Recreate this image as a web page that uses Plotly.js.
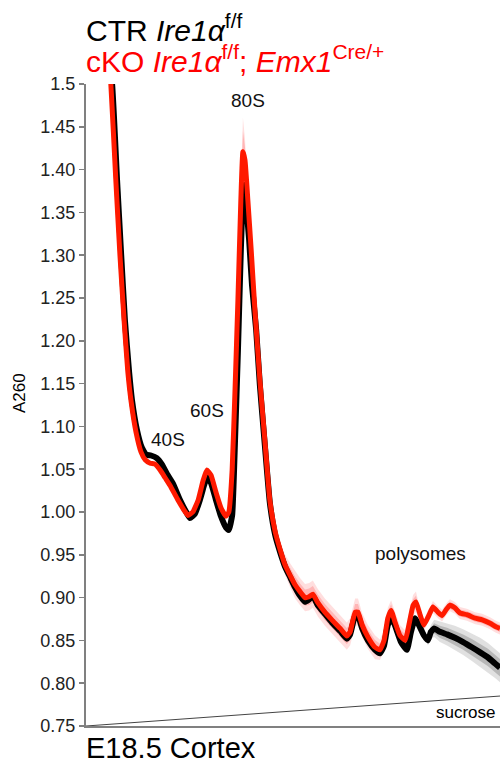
<!DOCTYPE html>
<html>
<head>
<meta charset="utf-8">
<script src="https://cdn.plot.ly/plotly-3.0.1.min.js"></script>
<style>html,body{margin:0;padding:0;background:#fff;}#chart{width:500px;height:765px;}</style>
</head>
<body>
<div id="chart"></div>
<script>
// Gradient position (% of gradient, top -> bottom) and A260 readings
const ctrX = [5.6,6.3,7.5,8.5,9.4,10.4,11.1,12.3,13.5,14.5,
  15.7,17.1,18.4,19.6,21.0,22.7,24.2,25.1,26.3,27.5,
  28.5,29.2,30.2,31.4,32.6,33.8,34.5,35.3,36.0,36.7,
  37.4,37.9,38.2,38.6,39.4,40.1,41.1,42.0,43.2,44.4,
  45.7,46.9,48.1,49.3,50.5,51.7,52.9,53.9,54.8,56.0,
  57.7,59.4,61.4,63.0,63.8,65.0,65.7,66.7,68.1,69.8,
  71.0,72.0,72.9,73.9,74.9,76.1,77.5,78.5,79.5,80.4,
  81.6,82.6,83.3,84.1,85.5,87.2,89.1,91.1,93.2,95.2,
  97.1,98.8,100];
const ctrY = [1.52,1.500,1.388,1.300,1.224,1.164,1.131,1.096,1.075,1.067,
  1.066,1.063,1.055,1.044,1.033,1.014,1.000,0.993,0.998,1.014,
  1.031,1.041,1.034,1.014,0.995,0.982,0.979,0.996,1.084,1.189,
  1.306,1.370,1.382,1.364,1.318,1.265,1.213,1.148,1.078,1.011,
  0.973,0.953,0.936,0.924,0.912,0.902,0.895,0.898,0.902,0.891,
  0.881,0.871,0.861,0.852,0.857,0.879,0.879,0.864,0.850,0.839,
  0.835,0.844,0.868,0.876,0.864,0.848,0.839,0.860,0.876,0.868,
  0.856,0.850,0.860,0.864,0.860,0.857,0.853,0.848,0.842,0.836,
  0.830,0.823,0.818];
const ctrSD = [0,0,0,0,0,0,0,0,0,0,
  0,0,0,0,0,0,0,0,0,0,
  0,0,0,0,0,0,0,0,0,0,
  0,0,0,0,0,0,0,0,0,0,
  0,0,0,0,0,0,0,0,0,0,
  0,0,0,0,0,0,0,0,0,0,
  0,0,0,0,0,0,0,0,0,0,
  0,0.006,0.008,0.010,0.012,0.013,0.014,0.015,0.016,0.017,
  0.017,0.017,0.017];

const ckoX = [5.6,6.0,7.2,8.2,9.2,10.1,10.9,12.1,13.3,14.3,
  15.5,16.7,17.9,19.1,20.3,22.2,23.7,24.6,25.8,27.1,
  28.3,29.2,30.2,31.4,32.6,33.8,34.5,35.3,36.0,36.7,
  37.4,37.9,38.4,39.1,39.9,40.8,42.0,43.2,44.4,45.7,
  46.9,48.1,49.3,50.5,51.7,52.9,53.9,54.8,56.0,57.7,
  59.4,61.4,63.0,63.8,65.0,65.7,66.7,68.1,69.8,71.0,
  72.0,72.9,73.7,74.6,75.8,77.1,78.0,79.0,79.7,80.7,
  81.6,82.9,83.8,85.0,86.0,87.0,87.9,89.1,90.3,92.0,
  94.0,95.7,97.6,99.0,100];
const ckoY = [1.52,1.500,1.388,1.300,1.224,1.164,1.129,1.093,1.070,1.061,
  1.057,1.056,1.049,1.040,1.031,1.014,1.002,0.996,1.000,1.014,
  1.037,1.049,1.043,1.023,1.005,0.995,1.000,1.049,1.143,1.248,
  1.364,1.421,1.411,1.364,1.306,1.236,1.154,1.084,1.014,0.977,
  0.956,0.938,0.926,0.915,0.907,0.900,0.901,0.904,0.894,0.883,
  0.874,0.864,0.855,0.860,0.883,0.883,0.868,0.854,0.842,0.839,
  0.850,0.876,0.885,0.872,0.856,0.850,0.868,0.891,0.895,0.880,
  0.868,0.880,0.889,0.883,0.879,0.886,0.891,0.888,0.882,0.880,
  0.876,0.874,0.870,0.866,0.864];
const ckoSD = [0,0,0,0,0,0,0,0,0,0,
  0,0,0,0,0,0,0,0,0,0,
  0,0,0,0,0,0,0,0,0,0,
  0.010,0.040,0.025,0.008,0,0,0,0,0,0.005,
  0.008,0.012,0.014,0.016,0.016,0.016,0.016,0.016,0.016,0.016,
  0.016,0.016,0.016,0.016,0.016,0.016,0.014,0.014,0.014,0.012,
  0.012,0.012,0.012,0.012,0.012,0.012,0.012,0.012,0.012,0.007,
  0.007,0.007,0.007,0.007,0.007,0.007,0.007,0.007,0.007,0.007,
  0.007,0.007,0.007,0.007,0.007];

// sucrose gradient wedge (gradient position, A260 units)
const sucroseX = [0, 100];
const sucroseY = [0.75, 0.785];

const yTickVals = [1.5,1.45,1.40,1.35,1.30,1.25,1.20,1.15,1.10,1.05,1.00,0.95,0.90,0.85,0.80,0.75];
const yTickText = ["1.5","1.45","1.40","1.35","1.30","1.25","1.20","1.15","1.10","1.05","1.00","0.95","0.90","0.85","0.80","0.75"];

const peakLabels = [
  {text:"80S", x:39.1, y:1.481},
  {text:"60S", x:29.2, y:1.118},
  {text:"40S", x:19.8, y:1.085},
  {text:"polysomes", x:80.7, y:0.952}
];

const FONT = "Liberation Sans, Arial, Helvetica, sans-serif";

function band(xs, ys, sd, color, k) {
  const up = ys.map((v,i)=>v+sd[i]*k);
  const lo = ys.map((v,i)=>v-sd[i]*k);
  return [
    {x:xs, y:up, mode:'lines', line:{width:0, color:color}, hoverinfo:'skip', showlegend:false},
    {x:xs, y:lo, mode:'lines', line:{width:0, color:color}, fill:'tonexty', fillcolor:color, hoverinfo:'skip', showlegend:false}
  ];
}

const traces = [
  ...band(ckoX, ckoY, ckoSD, 'rgba(255,0,0,0.13)', 1.0),
  ...band(ckoX, ckoY, ckoSD, 'rgba(255,0,0,0.18)', 0.6),
  ...band(ctrX, ctrY, ctrSD, 'rgba(0,0,0,0.12)', 1.0),
  ...band(ctrX, ctrY, ctrSD, 'rgba(0,0,0,0.18)', 0.6),
  {x:sucroseX, y:sucroseY, mode:'lines', line:{color:'#444', width:1}, showlegend:false, hoverinfo:'skip'},
  {x:ctrX, y:ctrY, mode:'lines', line:{color:'#000', width:6, shape:'spline', smoothing:0.4}, name:'CTR', showlegend:false},
  {x:ckoX, y:ckoY, mode:'lines', line:{color:'#ff1a00', width:5, shape:'spline', smoothing:0.4}, name:'cKO', showlegend:false}
];

function px2paperX(px){ return (px-86)/414; }
function px2paperY(py){ return (726-py)/642; }

const annotations = [
  {xref:'paper', yref:'paper', x:px2paperX(84), y:px2paperY(28), xanchor:'left', yanchor:'middle', showarrow:false,
   text:'CTR <i>Ire1α</i><sup>f/f</sup>', font:{family:FONT, size:30, color:'#000'}},
  {xref:'paper', yref:'paper', x:px2paperX(84), y:px2paperY(59), xanchor:'left', yanchor:'middle', showarrow:false,
   text:'cKO <i>Ire1α</i><sup>f/f</sup>; <i>Emx1</i><sup>Cre/+</sup>', font:{family:FONT, size:30, color:'#ff0000'}},
  {xref:'paper', yref:'paper', x:px2paperX(84), y:px2paperY(748), xanchor:'left', yanchor:'middle', showarrow:false,
   text:'E18.5 Cortex', font:{family:FONT, size:29, color:'#000'}},
  {xref:'paper', yref:'paper', x:px2paperX(19), y:px2paperY(393), xanchor:'center', yanchor:'middle', showarrow:false,
   textangle:-90, text:'A260', font:{family:FONT, size:17, color:'#000'}},
  {xref:'x', yref:'y', x:99.5, y:0.766, xanchor:'right', yanchor:'middle', showarrow:false,
   text:'sucrose', font:{family:FONT, size:17, color:'#000'}},
  ...peakLabels.map(p=>({xref:'x', yref:'y', x:p.x, y:p.y, xanchor:'center', yanchor:'middle', showarrow:false,
   text:p.text, font:{family:FONT, size:19, color:'#111'}}))
];

const layout = {
  width:500, height:765,
  margin:{l:86, r:0, t:84, b:39, pad:0},
  paper_bgcolor:'#fff', plot_bgcolor:'#fff',
  showlegend:false,
  xaxis:{range:[0,100], showline:true, linecolor:'#808080', linewidth:2, ticks:'', showticklabels:false,
         showgrid:false, zeroline:false, fixedrange:true},
  yaxis:{range:[0.75,1.5], tickvals:yTickVals, ticktext:yTickText, ticks:'outside', ticklen:5, tickwidth:1.5,
         tickcolor:'#808080', showline:true, linecolor:'#808080', linewidth:2, showgrid:false, zeroline:false,
         tickfont:{family:FONT, size:18, color:'#222'}, fixedrange:true},
  annotations:annotations
};

Plotly.newPlot('chart', traces, layout, {staticPlot:true, displayModeBar:false});
</script>
</body>
</html>
